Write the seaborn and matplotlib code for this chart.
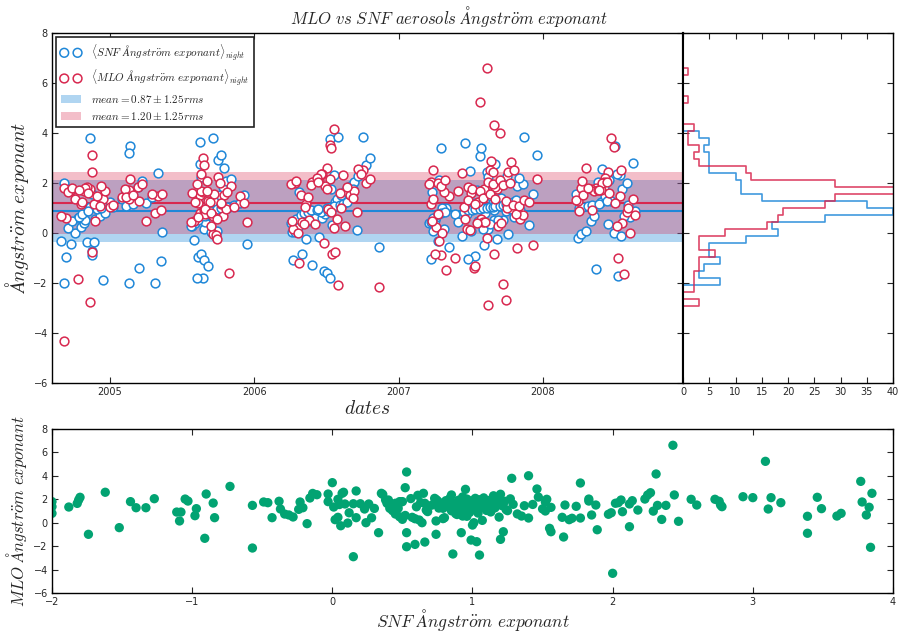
import numpy as np
import pandas as pd
import seaborn as sns
import matplotlib.pyplot as plt
import matplotlib.dates as mdates
from matplotlib.ticker import MultipleLocator

# nightly means, one entry per night: decimal year, SNF and MLO Angstrom exponent
years = [
    # 2004-2005 season
    2004.68, 2004.68, 2004.86, 2005.13, 2005.31, 2005.14, 2005.13, 2004.86, 2004.88, 2004.88,
    2004.78, 2004.88, 2004.84, 2004.89, 2004.95, 2005.20, 2005.35, 2004.70, 2004.73, 2004.66,
    2004.76, 2004.80, 2004.82, 2004.83, 2004.90, 2004.93, 2004.97, 2005.00, 2005.08, 2005.10,
    2005.19, 2005.22, 2005.33, 2004.71, 2004.74, 2004.79, 2004.81, 2004.85, 2004.91, 2004.94,
    2005.02, 2005.11, 2005.16, 2005.25, 2005.29, 2005.36,
    # 2005 season
    2005.71, 2005.62, 2005.75, 2005.77, 2005.79, 2005.62, 2005.63, 2005.61, 2005.64, 2005.63,
    2005.65, 2005.71, 2005.73, 2005.95, 2005.64, 2005.65, 2005.74, 2005.82, 2005.60, 2005.68,
    2005.58, 2005.70, 2005.57, 2005.59, 2005.66, 2005.67, 2005.69, 2005.72, 2005.76, 2005.78,
    2005.80, 2005.84, 2005.56, 2005.61, 2005.66, 2005.67, 2005.70, 2005.74, 2005.77, 2005.81,
    2005.86, 2005.90, 2005.93,
    # 2006 season
    2006.55, 2006.52, 2006.75, 2006.53, 2006.58, 2006.31, 2006.48, 2006.50, 2006.52, 2006.40,
    2006.27, 2006.33, 2006.86, 2006.36, 2006.45, 2006.26, 2006.28, 2006.30, 2006.54, 2006.35,
    2006.38, 2006.42, 2006.47, 2006.49, 2006.46, 2006.51, 2006.56, 2006.57, 2006.60, 2006.63,
    2006.66, 2006.69, 2006.72, 2006.74, 2006.77, 2006.80, 2006.25, 2006.29, 2006.32, 2006.34,
    2006.37, 2006.39, 2006.43, 2006.44, 2006.50, 2006.53, 2006.55, 2006.59, 2006.61, 2006.64,
    2006.68, 2006.71,
    # 2007 season
    2007.61, 2007.56, 2007.66, 2007.62, 2007.74, 2007.70, 2007.64, 2007.78, 2007.33, 2007.52,
    2007.57, 2007.29, 2007.46, 2007.72, 2007.39, 2007.66, 2007.25, 2007.82, 2007.53, 2007.93,
    2007.22, 2007.48, 2007.35, 2007.59, 2007.27, 2007.68, 2007.44, 2007.76, 2007.24, 2007.50,
    2007.31, 2007.58, 2007.63, 2007.21, 2007.41, 2007.55, 2007.69, 2007.26, 2007.80, 2007.47,
    2007.60, 2007.84, 2007.30, 2007.65, 2007.71, 2007.23, 2007.54, 2007.86, 2007.28, 2007.62,
    2007.75, 2007.49, 2007.67, 2007.96, 2007.22, 2007.24, 2007.27, 2007.29, 2007.32, 2007.45,
    2007.48, 2007.51, 2007.53, 2007.56, 2007.58, 2007.61, 2007.63, 2007.65, 2007.67, 2007.70,
    2007.72, 2007.74, 2007.77, 2007.79, 2007.81, 2007.83, 2007.87, 2007.90,
    # 2008 season
    2008.52, 2008.37, 2008.24, 2008.26, 2008.49, 2008.30, 2008.45, 2008.33, 2008.60, 2008.35,
    2008.40, 2008.47, 2008.43, 2008.23, 2008.28, 2008.55, 2008.42, 2008.58, 2008.38, 2008.46,
    2008.53, 2008.41, 2008.62, 2008.50, 2008.25, 2008.27, 2008.31, 2008.34, 2008.39, 2008.44,
    2008.51, 2008.54, 2008.56, 2008.59, 2008.64,
]

snf = [
    -2.00, 2.00, 1.05, -2.00, -2.00, 3.46, 3.20, 3.78, -0.73, -0.90,
    0.59, 1.56, -0.38, -0.37, -1.88, -1.40, -1.11, -0.98, -0.46, -0.31,
    0.01, 0.23, 0.39, 0.50, 0.57, 0.67, 0.78, 1.25, 1.37, 1.52,
    1.83, 2.06, 2.38, 0.20, 0.48, 0.63, 0.76, 0.87, 0.95, 0.99,
    1.03, 1.09, 1.14, 1.19, 1.43, 0.05,

    3.81, 3.63, 2.93, 3.11, 2.60, 2.77, 2.25, -0.97, -1.82, -0.85,
    -1.08, 0.11, -0.18, -0.43, 0.52, 0.17, 0.06, 1.03, -1.81, -1.33,
    -0.28, 0.02, 0.26, 0.41, 0.45, 0.73, 0.79, 1.29, 1.53, 1.85,
    2.07, 2.14, 0.28, 0.52, 0.68, 0.77, 0.88, 0.96, 0.99, 1.04,
    1.10, 1.21, 1.50,

    2.31, 3.77, 3.85, 1.77, 3.84, 1.65, -1.52, -1.62, -1.80, -1.27,
    -1.09, -0.84, -0.57, -0.24, -0.16, 0.04, 0.04, 0.24, 0.33, 0.43,
    0.48, 0.59, 0.61, 0.75, 0.85, 0.89, 1.22, 1.35, 1.52, 1.69,
    1.88, 2.02, 2.27, 2.44, 2.73, 3.00, 0.40, 0.56, 0.71, 0.79,
    0.82, 0.90, 0.93, 0.96, 1.00, 1.04, 1.07, 1.11, 1.15, 1.23,
    1.74, 0.12,

    2.43, 3.09, 0.53, 0.15, 0.86, 1.40, 1.46, 0.95, 0.99, 1.20,
    3.39, 3.39, 3.60, 0.53, 0.74, 0.92, 0.53, 1.89, -0.91, 1.55,
    -1.05, -1.03, -0.57, -0.49, -0.34, -0.23, -0.11, -0.03, 0.07, 0.09,
    0.15, 0.17, 0.35, 0.38, 0.45, 0.47, 0.50, 0.62, 0.65, 0.74,
    0.80, 0.93, 1.01, 1.20, 1.40, 1.64, 1.71, 1.97, 2.12, 2.23,
    2.29, 2.47, 2.76, 3.13, 0.44, 0.60, 0.74, 0.81, 0.84, 0.85,
    0.91, 0.92, 0.94, 0.97, 0.98, 1.00, 1.02, 1.05, 1.06, 1.08,
    1.12, 1.16, 1.18, 1.24, 1.32, 2.18, 3.83, 0.30,

    -1.74, -1.44, -0.21, -0.03, 0.00, 0.08, 0.36, 0.49, 0.64, 0.66,
    1.22, 1.28, 1.47, 1.56, 1.66, 1.77, 1.83, 1.99, 2.04, 2.12,
    2.32, 2.56, 2.78, 3.49, 0.98, 1.02, 1.06, 1.13, 1.17, 1.27,
    2.35, -0.14, 0.66, 1.13, 0.89,
]

mlo = [
    1.80, -4.32, -2.76, 1.37, 0.80, 2.17, 1.71, 1.77, 3.10, 2.45,
    -1.85, -0.77, 1.83, 1.17, 1.34, 1.28, 0.91, 0.60, 1.71, 0.66,
    1.34, 1.17, 1.66, 1.80, 0.46, 1.08, 1.66, 1.03, 1.45, 1.77,
    1.85, 1.94, 1.48, 1.62, 1.80, 1.72, 1.25, 1.58, 1.48, 1.86,
    1.10, 1.42, 1.52, 0.48, 1.56, 1.55,

    0.66, 0.80, 2.22, 1.17, 1.51, 1.51, 2.37, 1.20, 1.65, 1.68,
    0.91, -0.03, -0.08, 0.43, 2.99, 2.71, -0.26, -1.62, 1.94, 1.28,
    0.49, 0.26, 1.60, 1.23, 0.74, 2.08, 1.23, 1.57, 2.00, 0.66,
    0.94, 1.88, 0.42, 0.62, 0.95, 1.66, 0.78, 0.55, 1.20, 1.64,
    1.05, 1.46, 1.18,

    4.16, 3.53, 2.51, 3.39, -2.10, -1.22, -0.42, 2.60, 2.17, 2.05,
    0.15, 0.43, -2.16, 1.14, 2.11, 0.46, 2.00, 0.00, -0.85, 1.03,
    0.51, 0.34, 2.34, 1.88, 2.37, 0.94, -0.77, 0.57, 1.00, 0.26,
    1.51, 1.66, 2.56, 2.37, 2.00, 2.14, 1.94, 2.06, 1.50, 0.35,
    1.44, 1.92, 2.20, 2.02, 1.74, 0.82, 0.20, 1.60, 2.30, 1.83,
    1.40, 0.85,

    6.61, 5.24, 4.33, -2.90, -2.67, 4.01, 2.88, 2.85, -1.48, -1.42,
    0.55, -0.90, 0.57, -2.05, -0.99, -0.85, -0.85, -0.60, -1.33, -0.48,
    2.02, 1.85, 1.48, 1.77, 0.74, 1.77, 2.39, 2.45, 2.51, 1.60,
    1.62, 0.43, 2.51, 1.94, 1.66, 1.23, 0.29, 0.23, 2.51, 0.15,
    0.43, 0.57, 0.00, 2.43, 0.40, 0.46, 0.38, 0.72, -0.34, 2.02,
    0.99, 0.12, 1.83, 2.14, 1.14, 1.36, 1.98, 1.88, 2.10, 1.02,
    1.30, 1.76, 1.16, 1.68, 1.38, -0.20, 1.54, 1.96, 1.34, 2.12,
    1.90, 1.27, 2.00, 1.12, 0.75, 1.08, 1.32, 1.22,

    -0.99, 1.80, 1.28, 1.80, 3.42, 2.60, 2.42, 1.77, 0.00, 1.66,
    1.71, 3.79, 2.19, 1.31, 1.51, 0.40, 2.02, 0.85, 1.71, 1.60,
    1.48, 2.00, 1.37, 1.20, 0.88, 2.08, 1.78, 0.92, 1.70, 2.04,
    0.28, 2.50, -1.65, 0.98, 0.70,
]

snf_mean = 0.87
mlo_mean = 1.20
rms = 1.25

blue = '#1f87d8'
red = '#d8284f'
green = '#02a372'

ANG = r'Ångstr\ddot{o}m\ exponant'


def to_date(y):
    year = int(y)
    return pd.Timestamp(year, 1, 1) + pd.Timedelta(days=(y - year) * 365.25)


df = pd.DataFrame({'date': [to_date(y) for y in years], 'snf': snf, 'mlo': mlo})

sns.set_style('ticks')
plt.rcParams['font.family'] = ['DejaVu Sans']
plt.rcParams['mathtext.fontset'] = 'cm'

fig = plt.figure(figsize=(8.98, 6.32), dpi=100)
ax = fig.add_axes([0.0579, 0.394, 0.7027, 0.5538])
axh = fig.add_axes([0.7606, 0.394, 0.2339, 0.5538])
axb = fig.add_axes([0.0579, 0.0617, 0.9365, 0.2595])

# bands and means
ax.axhspan(snf_mean - rms, snf_mean + rms, color=blue, alpha=0.35, lw=0, zorder=1,
           label=r'$mean=%.2f\pm%.2frms$' % (snf_mean, rms))
ax.axhspan(mlo_mean - rms, mlo_mean + rms, color=red, alpha=0.3, lw=0, zorder=1,
           label=r'$mean=%.2f\pm%.2frms$' % (mlo_mean, rms))
ax.axhline(snf_mean, color=blue, lw=1.5, zorder=2)
ax.axhline(mlo_mean, color=red, lw=1.5, zorder=2)

sns.scatterplot(data=df, x='date', y='snf', ax=ax, s=40, facecolor='white',
                edgecolor=blue, linewidth=1.1, zorder=3,
                label=r'$\langle SNF\ ' + ANG + r'\rangle_{night}$')
sns.scatterplot(data=df, x='date', y='mlo', ax=ax, s=40, facecolor='white',
                edgecolor=red, linewidth=1.1, zorder=4,
                label=r'$\langle MLO\ ' + ANG + r'\rangle_{night}$')

handles, labels = ax.get_legend_handles_labels()
order = [2, 3, 0, 1]
leg = ax.legend([handles[i] for i in order], [labels[i] for i in order],
                loc='upper left', scatterpoints=2, scatteryoffsets=[0.5],
                fontsize=8, fancybox=False, framealpha=1, edgecolor='#222222',
                borderpad=0.4, handlelength=1.8, handletextpad=0.9,
                labelspacing=0.45, borderaxespad=0.4)
leg.get_frame().set_linewidth(1.2)

ax.set_ylim(-6, 8)
ax.set_xlim(pd.Timestamp('2004-08-07'), pd.Timestamp('2008-12-20'))
ax.xaxis.set_major_locator(mdates.YearLocator())
ax.xaxis.set_major_formatter(mdates.DateFormatter('%Y'))
ax.yaxis.set_major_locator(MultipleLocator(2))
ax.set_xlabel(r'$dates$', fontsize=14, labelpad=1)
ax.set_ylabel('$' + ANG + '$', fontsize=14, labelpad=2)

# histograms of both series
edges = np.arange(-4.31, 7.0, 0.28)
sns.histplot(y=df['snf'], bins=edges, element='step', fill=False, color=blue,
             linewidth=1.2, alpha=0.85, ax=axh)
sns.histplot(y=df['mlo'], bins=edges, element='step', fill=False, color=red,
             linewidth=1.2, alpha=0.85, ax=axh)
axh.set_xlim(0, 40)
axh.set_ylim(-6, 8)
axh.xaxis.set_major_locator(MultipleLocator(5))
axh.yaxis.set_major_locator(MultipleLocator(2))
axh.set_xlabel('')
axh.set_ylabel('')
axh.tick_params(labelleft=False)

# correlation
sns.scatterplot(data=df, x='snf', y='mlo', ax=axb, s=45, color=green,
                edgecolor='none')
axb.set_xlim(-2, 4)
axb.set_ylim(-6, 8)
axb.xaxis.set_major_locator(MultipleLocator(1))
axb.yaxis.set_major_locator(MultipleLocator(2))
axb.set_xlabel(r'$SNF\ ' + ANG + '$', fontsize=12.5, labelpad=0)
axb.set_ylabel(r'$MLO\ ' + ANG + '$', fontsize=12, labelpad=3)

for a in (ax, axh, axb):
    a.tick_params(direction='in', top=True, right=True, labelsize=7, length=4,
                  width=0.8, pad=3)
    for sp in a.spines.values():
        sp.set_linewidth(1.0)
        sp.set_color('black')
ax.spines['right'].set_linewidth(1.5)
axh.spines['left'].set_linewidth(1.5)

fig.suptitle(r'$MLO\ vs\ SNF\ aerosols\ ' + ANG + '$', fontsize=12, x=0.5, y=0.994)

fig.savefig('out.png', dpi=100)
